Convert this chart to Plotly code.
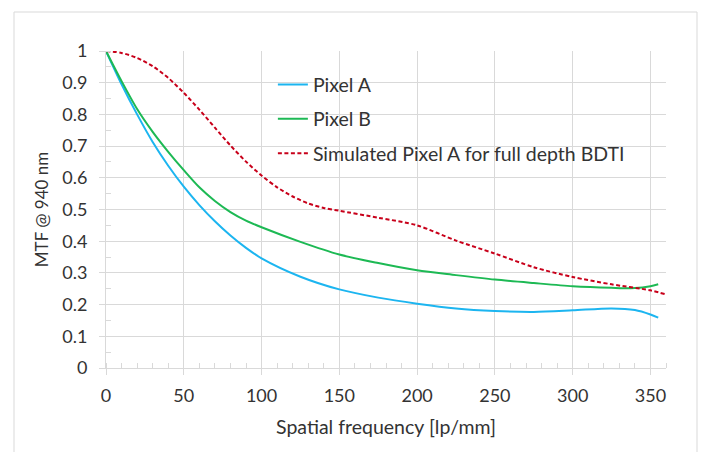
import plotly.graph_objects as go

# Data
x_a = [0, 10, 20, 30, 40, 50, 60, 70, 80, 90, 100, 125, 150, 175, 200, 225, 250, 275, 300, 325, 340, 350, 355]
pixel_a = [1.0, 0.895, 0.80, 0.713, 0.638, 0.572, 0.514, 0.463, 0.418, 0.379, 0.346, 0.288, 0.248, 0.222, 0.203, 0.188, 0.180, 0.177, 0.182, 0.188, 0.183, 0.169, 0.159]

x_b = [0, 10, 20, 30, 40, 50, 60, 70, 80, 90, 100, 125, 150, 175, 200, 225, 250, 275, 300, 325, 340, 350, 355]
pixel_b = [1.0, 0.905, 0.817, 0.745, 0.682, 0.624, 0.570, 0.527, 0.492, 0.465, 0.444, 0.398, 0.358, 0.331, 0.308, 0.293, 0.279, 0.268, 0.258, 0.253, 0.252, 0.258, 0.264]

x_sim = [0, 10, 20, 30, 40, 50, 60, 70, 80, 90, 100, 110, 120, 130, 140, 150, 175, 200, 225, 250, 275, 300, 325, 350, 360]
sim_a = [1.0, 0.994, 0.978, 0.952, 0.915, 0.868, 0.815, 0.758, 0.702, 0.651, 0.607, 0.570, 0.541, 0.519, 0.505, 0.496, 0.474, 0.45, 0.402, 0.361, 0.318, 0.287, 0.264, 0.245, 0.232]

x_ticks = [0, 50, 100, 150, 200, 250, 300, 350]
y_ticks = [0, 0.1, 0.2, 0.3, 0.4, 0.5, 0.6, 0.7, 0.8, 0.9, 1]
y_tick_text = ["0", "0.1", "0.2", "0.3", "0.4", "0.5", "0.6", "0.7", "0.8", "0.9", "1"]

FONT = "Lato, Noto Sans, sans-serif"
TXT = "#333333"
GRID = "#d9d9d9"

fig = go.Figure()
fig.add_trace(go.Scatter(x=x_a, y=pixel_a, mode="lines", name="Pixel A",
                         line=dict(color="#1cb5f0", width=2, shape="spline", smoothing=0.8),
                         legendgroup="a"))
fig.add_trace(go.Scatter(x=x_b, y=pixel_b, mode="lines", name="Pixel B",
                         line=dict(color="#1db954", width=2, shape="spline", smoothing=0.8),
                         legendgroup="b"))
fig.add_trace(go.Scatter(x=x_sim, y=sim_a, mode="lines", name="Simulated Pixel A for full depth BDTI",
                         line=dict(color="#c8001a", width=2, dash="4px,2.5px", shape="spline", smoothing=0.8),
                         legendgroup="c"))

fig.update_layout(
    width=710, height=452,
    margin=dict(l=106, r=44, t=51, b=84),
    paper_bgcolor="white", plot_bgcolor="white",
    font=dict(family=FONT, size=18, color=TXT),
    showlegend=True,
    legend=dict(x=0.298, y=0.955, xanchor="left", yanchor="top",
                bgcolor="rgba(0,0,0,0)", font=dict(family=FONT, size=19.5, color=TXT),
                traceorder="grouped", tracegroupgap=6, itemwidth=30),
    xaxis=dict(range=[0, 360], tickmode="array", tickvals=x_ticks,
               showgrid=True, gridcolor=GRID, gridwidth=1,
               showline=True, linecolor=GRID, linewidth=1, zeroline=False,
               ticks="outside", ticklen=6, tickcolor=GRID, ticklabelstandoff=5,
               minor=dict(dtick=10, ticks="inside", ticklen=5, tickcolor=GRID, showgrid=False),
               tickfont=dict(family=FONT, size=18, color=TXT),
               title=dict(text="Spatial frequency [lp/mm]", font=dict(family=FONT, size=19.5, color=TXT), standoff=15)),
    yaxis=dict(range=[0, 1], tickmode="array", tickvals=y_ticks, ticktext=y_tick_text,
               showgrid=True, gridcolor=GRID, gridwidth=1,
               showline=True, linecolor=GRID, linewidth=1, zeroline=False,
               ticks="outside", ticklen=6, tickcolor=GRID, ticklabelstandoff=8,
               minor=dict(dtick=0.05, ticks="inside", ticklen=5, tickcolor=GRID, showgrid=False),
               tickfont=dict(family=FONT, size=18, color=TXT),
               title=dict(text="MTF @ 940 nm", font=dict(family=FONT, size=17, color=TXT), standoff=9)),
)

# outer chart border
fig.add_shape(type="rect", xref="paper", yref="paper",
              x0=(14 - 106) / 560, x1=(697 - 106) / 560,
              y0=(368 - 470) / 317, y1=(368 - 12) / 317,
              line=dict(color=GRID, width=1), fillcolor="rgba(0,0,0,0)", layer="below")

fig.write_html("out.html")
